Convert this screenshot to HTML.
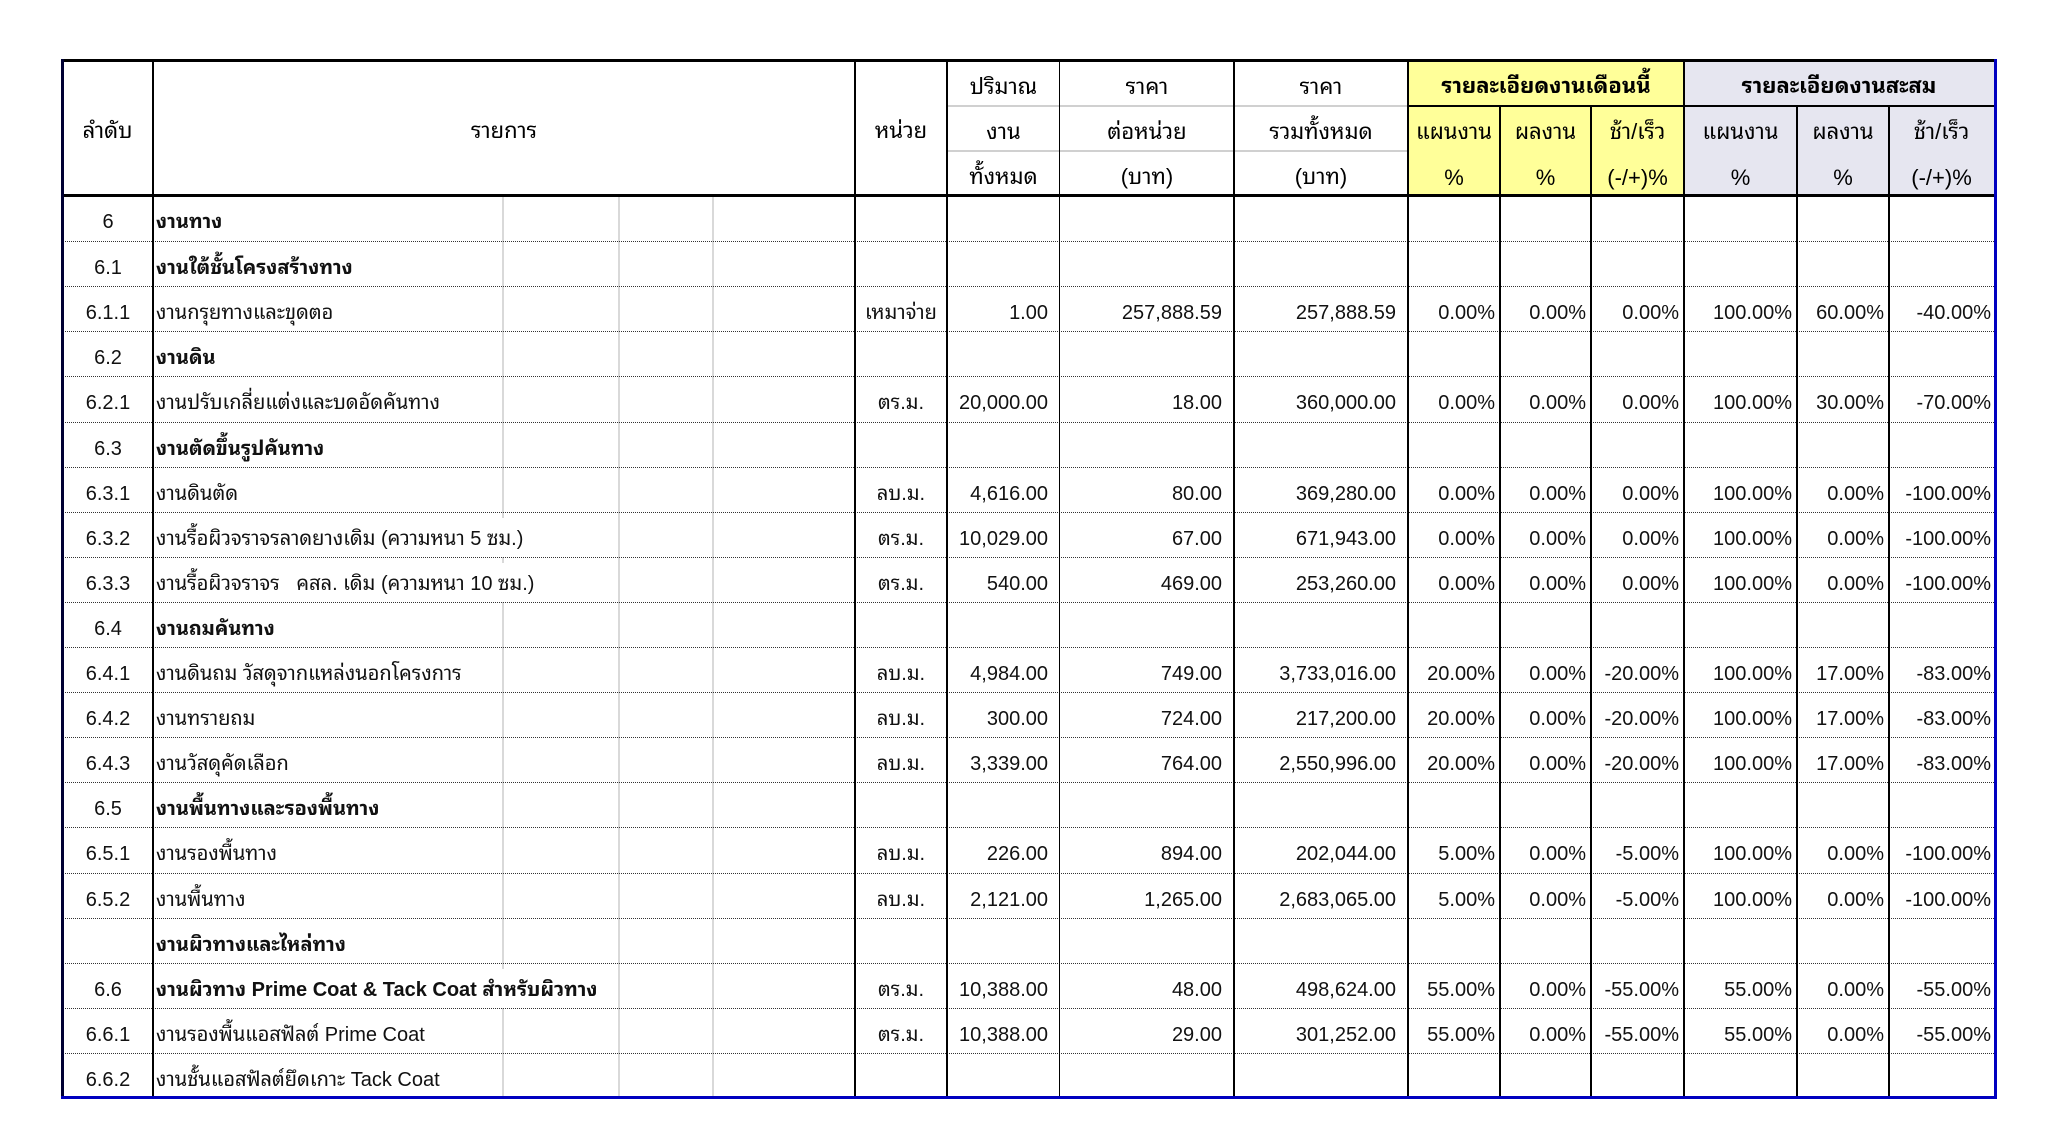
<!DOCTYPE html>
<html>
<head>
<meta charset="utf-8">
<style>
html,body{margin:0;padding:0;background:#fff;}
body{width:2058px;height:1134px;position:relative;overflow:hidden;
font-family:"Liberation Sans","Noto Sans Thai Looped","Noto Sans Thai","Tahoma","Loma","Garuda",sans-serif;color:#000;}
.ln{position:absolute;}
.h{position:absolute;text-align:center;white-space:nowrap;font-size:22px;line-height:45px;height:45px;}
.r{position:absolute;left:63px;width:1931px;height:45.1px;box-sizing:border-box;border-top:1px dotted #333;}
.r.f{border-top:none;}
.c{position:absolute;top:5px;height:40px;line-height:43px;font-size:20px;white-space:nowrap;box-sizing:border-box;color:#111;}
.c0{left:0;width:90px;text-align:center;}
.c1{left:90px;width:702px;padding-left:3px;}
.c1 span{background:#fff;display:inline-block;height:39px;}
.c2{left:792px;width:92px;text-align:center;}
.c3{left:884px;width:113px;}
.c4{left:997px;width:174px;}
.c5{left:1171px;width:174px;}
.c6{left:1345px;width:92px;}
.c7{left:1437px;width:91px;}
.c8{left:1528px;width:93px;}
.c9{left:1621px;width:113px;}
.c10{left:1734px;width:92px;}
.c11{left:1826px;width:107px;}
.n{text-align:right;padding-right:12px;}
.p{text-align:right;padding-right:5px;}
.b{font-weight:bold;}
</style>
</head>
<body>
<!-- header backgrounds -->
<div class="ln" style="left:1408px;top:62px;width:276px;height:132px;background:#ffff99"></div>
<div class="ln" style="left:1684px;top:62px;width:310px;height:132px;background:#e6e6f0"></div>

<!-- gray gridlines inside รายการ -->
<div class="ln" style="left:502px;top:197px;width:2px;height:900px;background:#d9d9d9"></div>
<div class="ln" style="left:618px;top:197px;width:2px;height:900px;background:#d9d9d9"></div>
<div class="ln" style="left:712px;top:197px;width:2px;height:900px;background:#d9d9d9"></div>

<!-- header gray horizontal lines -->
<div class="ln" style="left:947px;top:105px;width:461px;height:2px;background:#d0d0d0"></div>
<div class="ln" style="left:947px;top:150px;width:461px;height:2px;background:#d0d0d0"></div>

<!-- header texts -->
<div class="h" style="left:62px;width:91px;top:108px">ลำดับ</div>
<div class="h" style="left:153px;width:702px;top:108px">รายการ</div>
<div class="h" style="left:855px;width:92px;top:108px">หน่วย</div>
<div class="h" style="left:947px;width:113px;top:64px">ปริมาณ</div>
<div class="h" style="left:947px;width:113px;top:109px">งาน</div>
<div class="h" style="left:947px;width:113px;top:154px">ทั้งหมด</div>
<div class="h" style="left:1060px;width:174px;top:64px">ราคา</div>
<div class="h" style="left:1060px;width:174px;top:109px">ต่อหน่วย</div>
<div class="h" style="left:1060px;width:174px;top:154px">(บาท)</div>
<div class="h" style="left:1234px;width:174px;top:64px">ราคา</div>
<div class="h" style="left:1234px;width:174px;top:109px">รวมทั้งหมด</div>
<div class="h" style="left:1234px;width:174px;top:154px">(บาท)</div>
<div class="h" style="left:1408px;width:276px;top:63px;font-weight:bold">รายละเอียดงานเดือนนี้</div>
<div class="h" style="left:1684px;width:310px;top:63px;font-weight:bold">รายละเอียดงานสะสม</div>
<div class="h" style="left:1408px;width:92px;top:109px">แผนงาน</div>
<div class="h" style="left:1408px;width:92px;top:155px">%</div>
<div class="h" style="left:1500px;width:91px;top:109px">ผลงาน</div>
<div class="h" style="left:1500px;width:91px;top:155px">%</div>
<div class="h" style="left:1591px;width:93px;top:109px">ช้า/เร็ว</div>
<div class="h" style="left:1591px;width:93px;top:155px">(-/+)%</div>
<div class="h" style="left:1684px;width:113px;top:109px">แผนงาน</div>
<div class="h" style="left:1684px;width:113px;top:155px">%</div>
<div class="h" style="left:1797px;width:92px;top:109px">ผลงาน</div>
<div class="h" style="left:1797px;width:92px;top:155px">%</div>
<div class="h" style="left:1889px;width:105px;top:109px">ช้า/เร็ว</div>
<div class="h" style="left:1889px;width:105px;top:155px">(-/+)%</div>

<!-- body rows -->
<div class="r f" style="top:196px"><div class="c c0">6</div><div class="c c1 b"><span>งานทาง</span></div></div>
<div class="r" style="top:241.1px"><div class="c c0">6.1</div><div class="c c1 b"><span>งานใต้ชั้นโครงสร้างทาง</span></div></div>
<div class="r" style="top:286.2px"><div class="c c0">6.1.1</div><div class="c c1"><span>งานกรุยทางและขุดตอ</span></div><div class="c c2">เหมาจ่าย</div><div class="c c3 n">1.00</div><div class="c c4 n">257,888.59</div><div class="c c5 n">257,888.59</div><div class="c c6 p">0.00%</div><div class="c c7 p">0.00%</div><div class="c c8 p">0.00%</div><div class="c c9 p">100.00%</div><div class="c c10 p">60.00%</div><div class="c c11 p">-40.00%</div></div>
<div class="r" style="top:331.3px"><div class="c c0">6.2</div><div class="c c1 b"><span>งานดิน</span></div></div>
<div class="r" style="top:376.4px"><div class="c c0">6.2.1</div><div class="c c1"><span>งานปรับเกลี่ยแต่งและบดอัดคันทาง</span></div><div class="c c2">ตร.ม.</div><div class="c c3 n">20,000.00</div><div class="c c4 n">18.00</div><div class="c c5 n">360,000.00</div><div class="c c6 p">0.00%</div><div class="c c7 p">0.00%</div><div class="c c8 p">0.00%</div><div class="c c9 p">100.00%</div><div class="c c10 p">30.00%</div><div class="c c11 p">-70.00%</div></div>
<div class="r" style="top:421.5px"><div class="c c0">6.3</div><div class="c c1 b"><span>งานตัดขึ้นรูปคันทาง</span></div></div>
<div class="r" style="top:466.6px"><div class="c c0">6.3.1</div><div class="c c1"><span>งานดินตัด</span></div><div class="c c2">ลบ.ม.</div><div class="c c3 n">4,616.00</div><div class="c c4 n">80.00</div><div class="c c5 n">369,280.00</div><div class="c c6 p">0.00%</div><div class="c c7 p">0.00%</div><div class="c c8 p">0.00%</div><div class="c c9 p">100.00%</div><div class="c c10 p">0.00%</div><div class="c c11 p">-100.00%</div></div>
<div class="r" style="top:511.7px"><div class="c c0">6.3.2</div><div class="c c1"><span>งานรื้อผิวจราจรลาดยางเดิม (ความหนา 5 ซม.)</span></div><div class="c c2">ตร.ม.</div><div class="c c3 n">10,029.00</div><div class="c c4 n">67.00</div><div class="c c5 n">671,943.00</div><div class="c c6 p">0.00%</div><div class="c c7 p">0.00%</div><div class="c c8 p">0.00%</div><div class="c c9 p">100.00%</div><div class="c c10 p">0.00%</div><div class="c c11 p">-100.00%</div></div>
<div class="r" style="top:556.8px"><div class="c c0">6.3.3</div><div class="c c1"><span>งานรื้อผิวจราจร &nbsp; คสล. เดิม (ความหนา 10 ซม.)</span></div><div class="c c2">ตร.ม.</div><div class="c c3 n">540.00</div><div class="c c4 n">469.00</div><div class="c c5 n">253,260.00</div><div class="c c6 p">0.00%</div><div class="c c7 p">0.00%</div><div class="c c8 p">0.00%</div><div class="c c9 p">100.00%</div><div class="c c10 p">0.00%</div><div class="c c11 p">-100.00%</div></div>
<div class="r" style="top:601.9px"><div class="c c0">6.4</div><div class="c c1 b"><span>งานถมคันทาง</span></div></div>
<div class="r" style="top:647px"><div class="c c0">6.4.1</div><div class="c c1"><span>งานดินถม วัสดุจากแหล่งนอกโครงการ</span></div><div class="c c2">ลบ.ม.</div><div class="c c3 n">4,984.00</div><div class="c c4 n">749.00</div><div class="c c5 n">3,733,016.00</div><div class="c c6 p">20.00%</div><div class="c c7 p">0.00%</div><div class="c c8 p">-20.00%</div><div class="c c9 p">100.00%</div><div class="c c10 p">17.00%</div><div class="c c11 p">-83.00%</div></div>
<div class="r" style="top:692.1px"><div class="c c0">6.4.2</div><div class="c c1"><span>งานทรายถม</span></div><div class="c c2">ลบ.ม.</div><div class="c c3 n">300.00</div><div class="c c4 n">724.00</div><div class="c c5 n">217,200.00</div><div class="c c6 p">20.00%</div><div class="c c7 p">0.00%</div><div class="c c8 p">-20.00%</div><div class="c c9 p">100.00%</div><div class="c c10 p">17.00%</div><div class="c c11 p">-83.00%</div></div>
<div class="r" style="top:737.2px"><div class="c c0">6.4.3</div><div class="c c1"><span>งานวัสดุคัดเลือก</span></div><div class="c c2">ลบ.ม.</div><div class="c c3 n">3,339.00</div><div class="c c4 n">764.00</div><div class="c c5 n">2,550,996.00</div><div class="c c6 p">20.00%</div><div class="c c7 p">0.00%</div><div class="c c8 p">-20.00%</div><div class="c c9 p">100.00%</div><div class="c c10 p">17.00%</div><div class="c c11 p">-83.00%</div></div>
<div class="r" style="top:782.3px"><div class="c c0">6.5</div><div class="c c1 b"><span>งานพื้นทางและรองพื้นทาง</span></div></div>
<div class="r" style="top:827.4px"><div class="c c0">6.5.1</div><div class="c c1"><span>งานรองพื้นทาง</span></div><div class="c c2">ลบ.ม.</div><div class="c c3 n">226.00</div><div class="c c4 n">894.00</div><div class="c c5 n">202,044.00</div><div class="c c6 p">5.00%</div><div class="c c7 p">0.00%</div><div class="c c8 p">-5.00%</div><div class="c c9 p">100.00%</div><div class="c c10 p">0.00%</div><div class="c c11 p">-100.00%</div></div>
<div class="r" style="top:872.5px"><div class="c c0">6.5.2</div><div class="c c1"><span>งานพื้นทาง</span></div><div class="c c2">ลบ.ม.</div><div class="c c3 n">2,121.00</div><div class="c c4 n">1,265.00</div><div class="c c5 n">2,683,065.00</div><div class="c c6 p">5.00%</div><div class="c c7 p">0.00%</div><div class="c c8 p">-5.00%</div><div class="c c9 p">100.00%</div><div class="c c10 p">0.00%</div><div class="c c11 p">-100.00%</div></div>
<div class="r" style="top:917.6px"><div class="c c0"></div><div class="c c1 b"><span>งานผิวทางและไหล่ทาง</span></div></div>
<div class="r" style="top:962.7px"><div class="c c0">6.6</div><div class="c c1 b"><span>งานผิวทาง Prime Coat &amp; Tack Coat สำหรับผิวทาง</span></div><div class="c c2">ตร.ม.</div><div class="c c3 n">10,388.00</div><div class="c c4 n">48.00</div><div class="c c5 n">498,624.00</div><div class="c c6 p">55.00%</div><div class="c c7 p">0.00%</div><div class="c c8 p">-55.00%</div><div class="c c9 p">55.00%</div><div class="c c10 p">0.00%</div><div class="c c11 p">-55.00%</div></div>
<div class="r" style="top:1007.8px"><div class="c c0">6.6.1</div><div class="c c1"><span>งานรองพื้นแอสฟัลต์ Prime Coat</span></div><div class="c c2">ตร.ม.</div><div class="c c3 n">10,388.00</div><div class="c c4 n">29.00</div><div class="c c5 n">301,252.00</div><div class="c c6 p">55.00%</div><div class="c c7 p">0.00%</div><div class="c c8 p">-55.00%</div><div class="c c9 p">55.00%</div><div class="c c10 p">0.00%</div><div class="c c11 p">-55.00%</div></div>
<div class="r" style="top:1052.9px"><div class="c c0">6.6.2</div><div class="c c1"><span>งานชั้นแอสฟัลต์ยึดเกาะ Tack Coat</span></div></div>

<!-- vertical black lines: full height (header + body) -->
<div class="ln" style="left:152px;top:61px;width:2px;height:1036px;background:#000"></div>
<div class="ln" style="left:854px;top:61px;width:2px;height:1036px;background:#000"></div>
<div class="ln" style="left:946px;top:61px;width:2px;height:1036px;background:#000"></div>
<div class="ln" style="left:1059px;top:61px;width:1px;height:1036px;background:#000"></div>
<div class="ln" style="left:1233px;top:61px;width:2px;height:1036px;background:#000"></div>
<div class="ln" style="left:1407px;top:61px;width:2px;height:1036px;background:#000"></div>
<div class="ln" style="left:1683px;top:61px;width:2px;height:1036px;background:#000"></div>
<!-- sub-columns (below group title) -->
<div class="ln" style="left:1499px;top:106px;width:2px;height:991px;background:#000"></div>
<div class="ln" style="left:1590px;top:106px;width:2px;height:991px;background:#000"></div>
<div class="ln" style="left:1796px;top:106px;width:2px;height:991px;background:#000"></div>
<div class="ln" style="left:1888px;top:106px;width:2px;height:991px;background:#000"></div>
<!-- group title bottom line -->
<div class="ln" style="left:1408px;top:105px;width:588px;height:2px;background:#000"></div>
<!-- header bottom -->
<div class="ln" style="left:61px;top:194px;width:1935px;height:3px;background:#000"></div>
<!-- outer borders -->
<div class="ln" style="left:61px;top:59px;width:1936px;height:3px;background:#000"></div>
<div class="ln" style="left:61px;top:59px;width:3px;height:1040px;background:#000033"></div>
<div class="ln" style="left:1994px;top:59px;width:3px;height:1040px;background:#0000c0"></div>
<div class="ln" style="left:61px;top:1096px;width:1936px;height:3px;background:#0000c0"></div>
</body>
</html>
